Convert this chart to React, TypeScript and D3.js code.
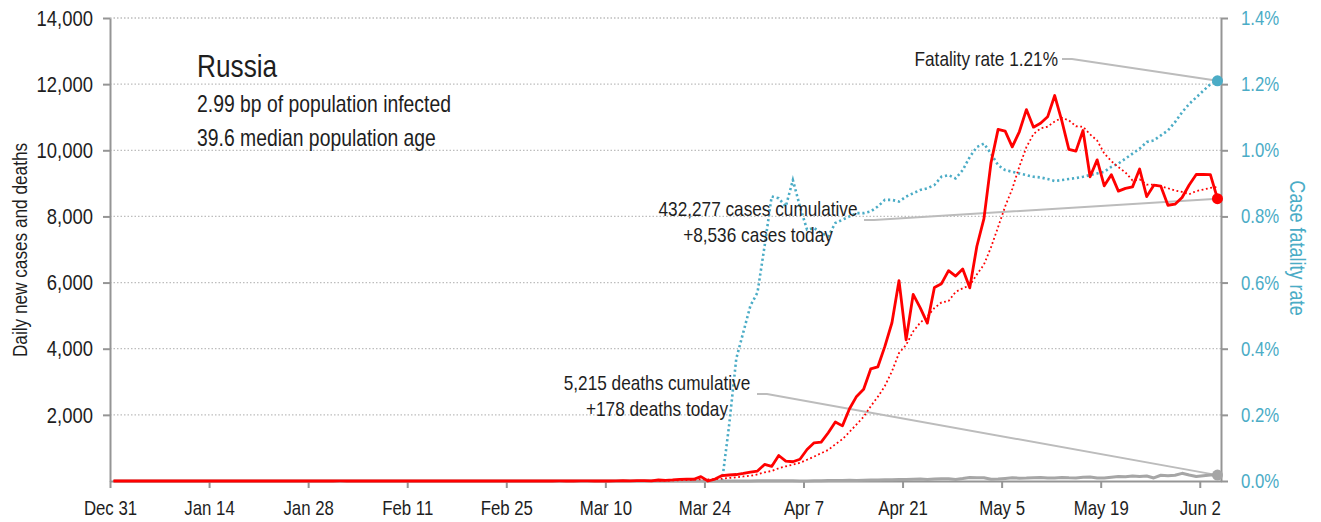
import * as d3 from "d3";
import { useEffect, useRef } from "react";

// daily series, one value per day starting Dec 31 2019
const startDate = "2019-12-31";

const dailyCases = [
  // Dec 31 - Jan 31
  0, 0, 0, 0, 0, 0, 0, 0, 0, 0, 0, 0, 0, 0, 0, 0, 0, 0, 0, 0, 0, 0, 0, 0, 0, 0, 0, 0, 0, 0, 0, 0,
  // Feb 1 - Feb 29
  2, 0, 0, 0, 0, 0, 0, 0, 0, 0, 0, 0, 0, 0, 0, 0, 0, 0, 0, 0, 0, 0, 0, 0, 0, 0, 0, 0, 0,
  // Mar 1 - Mar 31
  0, 0, 1, 0, 0, 1, 6, 0, 3, 0, 3, 8, 6, 11, 14, 4, 30, 21, 33, 52, 54, 53, 132, 0, 57, 163,
  182, 196, 228, 270, 302,
  // Apr 1 - Apr 30
  501, 440, 771, 601, 582, 658, 954, 1154, 1175, 1459, 1786, 1667, 2186, 2558, 2774, 3388,
  3448, 4070, 4785, 6060, 4268, 5642, 5236, 4774, 5849, 5966, 6361, 6198, 6411, 5841,
  // May 1 - May 31
  7099, 7933, 9623, 10633, 10581, 10102, 10559, 11231, 10699, 10817, 11012, 11656, 10899,
  10028, 9974, 10598, 9200, 9709, 8926, 9263, 8764, 8849, 8894, 9434, 8599, 8946, 8915, 8338,
  8371, 8572, 8952,
  // Jun 1 - Jun 4
  9268, 9268, 9263, 8536,
];

const dailyDeaths = [
  // Dec 31 - Jan 31
  0, 0, 0, 0, 0, 0, 0, 0, 0, 0, 0, 0, 0, 0, 0, 0, 0, 0, 0, 0, 0, 0, 0, 0, 0, 0, 0, 0, 0, 0, 0, 0,
  // Feb 1 - Feb 29
  0, 0, 0, 0, 0, 0, 0, 0, 0, 0, 0, 0, 0, 0, 0, 0, 0, 0, 0, 0, 0, 0, 0, 0, 0, 0, 0, 0, 0,
  // Mar 1 - Mar 31
  0, 0, 0, 0, 0, 0, 0, 0, 0, 0, 0, 0, 0, 0, 0, 0, 0, 0, 0, 0, 0, 0, 0, 0, 0, 0, 1, 1, 1, 1, 5,
  // Apr 1 - Apr 30
  8, 7, 6, 4, 9, 2, 2, 11, 5, 13, 18, 12, 24, 18, 22, 28, 34, 41, 40, 48, 44, 51, 57, 42, 60,
  66, 66, 47, 73, 105,
  // May 1 - May 31
  101, 96, 53, 58, 76, 95, 86, 88, 98, 104, 88, 94, 107, 96, 93, 113, 119, 94, 91, 115, 135,
  127, 150, 139, 153, 92, 174, 161, 174, 232, 181,
  // Jun 1 - Jun 4
  138, 162, 182, 178,
];

// case fatality rate in %, from Mar 26
const fatalityStart = "2020-03-26";
const fatalityRate = [
  0.0, 0.17, 0.37, 0.45, 0.53, 0.57,
  0.71, 0.86, 0.855, 0.83, 0.91, 0.83, 0.76, 0.765, 0.75, 0.74, 0.78, 0.79, 0.8, 0.81, 0.81,
  0.815, 0.83, 0.85, 0.85, 0.845, 0.86, 0.87, 0.88, 0.885, 0.895, 0.92, 0.925, 0.915, 0.94, 0.98,
  1.01, 1.02, 0.99, 0.955, 0.94, 0.935, 0.93, 0.925, 0.92, 0.918, 0.913, 0.907, 0.91, 0.913,
  0.916, 0.92, 0.925, 0.93, 0.935, 0.95, 0.96, 0.975, 0.99, 1.005, 1.025, 1.03, 1.045, 1.06,
  1.085, 1.115, 1.14,
  1.16, 1.18, 1.2, 1.21,
];

const xTickDates = [
  "2019-12-31", "2020-01-14", "2020-01-28", "2020-02-11", "2020-02-25", "2020-03-10",
  "2020-03-24", "2020-04-07", "2020-04-21", "2020-05-05", "2020-05-19", "2020-06-02",
];
const caseTicks = [2000, 4000, 6000, 8000, 10000, 12000, 14000];
const rateTicks = [0, 0.2, 0.4, 0.6, 0.8, 1.0, 1.2, 1.4];

const country = "Russia";
const infoLines = ["2.99 bp of population infected", "39.6 median population age"];
const fatalityLabel = "Fatality rate 1.21%";
const casesLabel = ["432,277 cases cumulative", "+8,536 cases today"];
const deathsLabel = ["5,215 deaths cumulative", "+178 deaths today"];

// no condensed face installed: squeeze Liberation Sans horizontally
const FONT = "'Liberation Sans', Arial, sans-serif";
const SQUEEZE = 0.82;
const TEXT = "#1e1e1e";
const BLUE = "#4bacc6";
const RED = "#ff0000";
const GREY = "#a6a6a6";
const AXIS = "#959595";

export default function App() {
  const ref = useRef<SVGSVGElement>(null);

  useEffect(() => {
    if (!ref.current) return;
    document.body.style.margin = "0";
    const svg = d3.select(ref.current);
    svg.selectAll("*").remove();

    const left = 110, right = 1221, top = 18, bottom = 481;
    const parse = d3.utcParse("%Y-%m-%d");
    const t0 = parse(startDate)!;
    const tEnd = d3.utcDay.offset(t0, 157);

    const x = d3.scaleUtc().domain([t0, tEnd]).range([left, right]);
    const y = d3.scaleLinear().domain([0, 14000]).range([bottom, top]);
    const yr = d3.scaleLinear().domain([0, 1.4]).range([bottom, top]);

    // points sit at mid-day
    const xAt = (d: Date) => x(d3.utcHour.offset(d, 12));
    const dayOf = (i: number) => d3.utcDay.offset(t0, i);

    const cases = dailyCases.map((v, i) => ({ date: dayOf(i), v }));
    const deaths = dailyDeaths.map((v, i) => ({ date: dayOf(i), v }));
    const avg = dailyCases.map((_, i) => ({
      date: dayOf(i),
      v: d3.mean(dailyCases.slice(Math.max(0, i - 6), i + 1))!,
    }));
    const f0 = parse(fatalityStart)!;
    const cfr = fatalityRate.map((v, i) => ({ date: d3.utcDay.offset(f0, i), v }));

    // turn x/y placement into a transform so the glyphs can be narrowed
    const squeeze = (sel: any, size: number) =>
      sel
        .style("font-family", FONT)
        .style("font-size", `${size}px`)
        .each(function (this: SVGTextElement) {
          const t = d3.select(this);
          const tx = +(t.attr("x") || 0);
          const ty = +(t.attr("y") || 0);
          const prev = t.attr("data-rot") || "";
          t.attr("x", null)
            .attr("y", null)
            .attr("transform", `translate(${tx},${ty}) ${prev} scale(${SQUEEZE},1)`);
        });

    // grid
    svg
      .append("g")
      .selectAll("line")
      .data(caseTicks)
      .join("line")
      .attr("x1", left)
      .attr("x2", right)
      .attr("y1", (d) => y(d))
      .attr("y2", (d) => y(d))
      .attr("stroke", "#bdbdbd")
      .attr("stroke-width", 1.3)
      .attr("stroke-dasharray", "1.5 2");

    // axes
    const styleAxis = (g: any, color: string, size: number) => {
      g.select(".domain").attr("stroke", AXIS).attr("stroke-width", 2);
      g.selectAll(".tick line").attr("stroke", AXIS).attr("stroke-width", 2);
      g.selectAll("text").attr("fill", color).call((s: any) => squeeze(s, size));
    };

    svg
      .append("g")
      .attr("transform", `translate(0,${bottom})`)
      .call(
        d3
          .axisBottom(x)
          .tickValues(xTickDates.map((s) => parse(s)!))
          .tickFormat((d: any) => d3.utcFormat("%b %-d")(d))
          .tickSize(7)
          .tickSizeOuter(0)
          .tickPadding(12)
      )
      .call((g) => styleAxis(g, TEXT, 20.5));

    svg
      .append("g")
      .attr("transform", `translate(${left},0)`)
      .call(
        d3
          .axisLeft(y)
          .tickValues(caseTicks)
          .tickFormat(d3.format(","))
          .tickSize(7)
          .tickSizeOuter(0)
          .tickPadding(10)
      )
      .call((g) => styleAxis(g, TEXT, 22.5));

    svg
      .append("g")
      .attr("transform", `translate(${right},0)`)
      .call(
        d3
          .axisRight(yr)
          .tickValues(rateTicks)
          .tickFormat((d: any) => d3.format(".1f")(d) + "%")
          .tickSize(7)
          .tickSizeOuter(0)
          .tickPadding(13)
      )
      .call((g) => styleAxis(g, BLUE, 20.5));

    // axis titles
    svg
      .append("text")
      .attr("x", 27)
      .attr("y", 250)
      .attr("data-rot", "rotate(-90)")
      .attr("text-anchor", "middle")
      .attr("fill", TEXT)
      .text("Daily new cases and deaths")
      .call((s: any) => squeeze(s, 21));

    svg
      .append("text")
      .attr("x", 1290)
      .attr("y", 248)
      .attr("data-rot", "rotate(90)")
      .attr("text-anchor", "middle")
      .attr("fill", BLUE)
      .text("Case fatality rate")
      .call((s: any) => squeeze(s, 22));

    // annotation leader lines
    const lastCase = cases[cases.length - 1];
    const lastDeath = deaths[deaths.length - 1];
    const lastRate = cfr[cfr.length - 1];
    const leaders: [number, number, number, number][] = [
      [1062, 59, xAt(lastRate.date), yr(lastRate.v)],
      [864, 220, xAt(lastCase.date), y(lastCase.v)],
      [757, 394, xAt(lastDeath.date), y(lastDeath.v)],
    ];
    svg
      .append("g")
      .selectAll("path")
      .data(leaders)
      .join("path")
      .attr("d", ([x1, y1, x2, y2]) => `M${x1},${y1}H${x1 + 10}L${x2},${y2}`)
      .attr("fill", "none")
      .attr("stroke", "#bcbcbc")
      .attr("stroke-width", 2);

    const line = d3
      .line<{ date: Date; v: number }>()
      .x((d) => xAt(d.date))
      .y((d) => y(d.v));
    const rateLine = d3
      .line<{ date: Date; v: number }>()
      .x((d) => xAt(d.date))
      .y((d) => yr(d.v));

    svg
      .append("path")
      .datum(cfr)
      .attr("d", rateLine)
      .attr("fill", "none")
      .attr("stroke", BLUE)
      .attr("stroke-width", 2.6)
      .attr("stroke-dasharray", "2.2 2.8");

    svg
      .append("path")
      .datum(deaths)
      .attr("d", line)
      .attr("fill", "none")
      .attr("stroke", GREY)
      .attr("stroke-width", 3)
      .attr("stroke-linejoin", "round");

    svg
      .append("path")
      .datum(avg)
      .attr("d", line)
      .attr("fill", "none")
      .attr("stroke", RED)
      .attr("stroke-width", 1.8)
      .attr("stroke-dasharray", "1.8 2.6");

    svg
      .append("path")
      .datum(cases)
      .attr("d", line)
      .attr("fill", "none")
      .attr("stroke", RED)
      .attr("stroke-width", 2.8)
      .attr("stroke-linejoin", "round");

    // end markers
    const ends = [
      { cx: xAt(lastRate.date), cy: yr(lastRate.v), c: BLUE },
      { cx: xAt(lastCase.date), cy: y(lastCase.v), c: RED },
      { cx: xAt(lastDeath.date), cy: y(lastDeath.v), c: GREY },
    ];
    svg
      .append("g")
      .selectAll("circle")
      .data(ends)
      .join("circle")
      .attr("cx", (d) => d.cx)
      .attr("cy", (d) => d.cy)
      .attr("r", 5.5)
      .attr("fill", (d) => d.c);

    // texts
    const addText = (
      s: string,
      tx: number,
      ty: number,
      size: number,
      anchor = "start"
    ) =>
      svg
        .append("text")
        .attr("x", tx)
        .attr("y", ty)
        .attr("text-anchor", anchor)
        .attr("fill", TEXT)
        .text(s)
        .call((sel: any) => squeeze(sel, size));

    addText(country, 197, 77, 32);
    infoLines.forEach((s, i) => addText(s, 197, 112 + i * 34, 23.6));
    addText(fatalityLabel, 1058, 66, 21, "end");
    casesLabel.forEach((s, i) => addText(s, 758, 216 + i * 26, 21, "middle"));
    deathsLabel.forEach((s, i) => addText(s, 657, 390 + i * 26, 21, "middle"));
  }, []);

  return <svg ref={ref} width={1321} height={522} style={{ display: "block" }} />;
}
